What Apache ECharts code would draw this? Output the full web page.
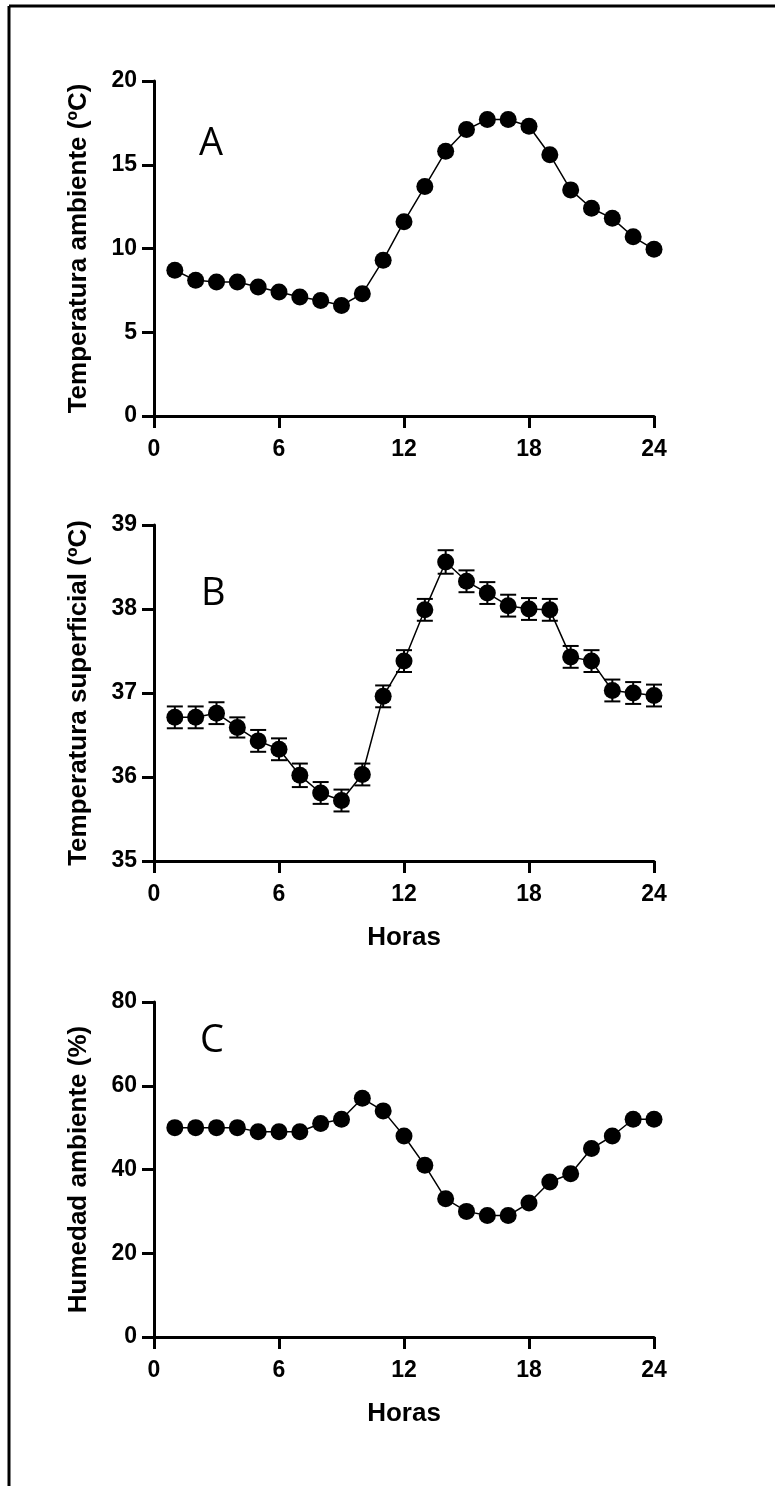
<!DOCTYPE html>
<html>
<head>
<meta charset="utf-8">
<script src="https://cdn.jsdelivr.net/npm/echarts@6/dist/echarts.min.js"></script>
<style>
  html, body { margin: 0; padding: 0; background: #fff; }
  #chart { width: 775px; height: 1486px; }
</style>
</head>
<body>
<div id="chart"></div>
<script>
// horas del día
var horas = [1, 2, 3, 4, 5, 6, 7, 8, 9, 10, 11, 12, 13, 14, 15, 16, 17, 18, 19, 20, 21, 22, 23, 24];
// A: temperatura ambiente (ºC)
var tempAmbiente = [8.7, 8.1, 8.0, 8.0, 7.7, 7.4, 7.1, 6.9, 6.6, 7.3, 9.3, 11.6, 13.7, 15.8, 17.1, 17.7, 17.7, 17.3, 15.6, 13.5, 12.4, 11.8, 10.7, 9.95];
// B: temperatura superficial (ºC) y error
var tempSuperficial = [36.71, 36.71, 36.76, 36.59, 36.43, 36.33, 36.02, 35.81, 35.72, 36.03, 36.96, 37.38, 37.99, 38.56, 38.33, 38.19, 38.04, 38.0, 37.99, 37.43, 37.38, 37.03, 37.0, 36.97];
var errSuperficial = [0.13, 0.13, 0.13, 0.12, 0.13, 0.13, 0.14, 0.13, 0.13, 0.13, 0.13, 0.13, 0.13, 0.14, 0.13, 0.13, 0.13, 0.13, 0.13, 0.13, 0.13, 0.13, 0.13, 0.13];
// C: humedad ambiente (%)
var humedad = [50, 50, 50, 50, 49, 49, 49, 51, 52, 57, 54, 48, 41, 33, 30, 29, 29, 32, 37, 39, 45, 48, 52, 52];

var xTicks = { min: 0, max: 24, interval: 6 };
var yA = { min: 0, max: 20, interval: 5, name: 'Temperatura ambiente (ºC)' };
var yB = { min: 35, max: 39, interval: 1, name: 'Temperatura superficial (ºC)' };
var yC = { min: 0, max: 80, interval: 20, name: 'Humedad ambiente (%)' };

var fontFam = '"Liberation Sans", Arial, sans-serif';

function pares(vals) {
  return horas.map(function (h, i) { return [h, vals[i]]; });
}

function ejeX(idx, conNombre) {
  return {
    gridIndex: idx,
    type: 'value',
    min: xTicks.min,
    max: xTicks.max,
    interval: xTicks.interval,
    name: conNombre ? 'Horas' : '',
    nameLocation: 'middle',
    nameGap: 64,
    nameTextStyle: { color: '#000', fontWeight: 'bold', fontSize: 26, fontFamily: fontFam },
    axisLine: { lineStyle: { color: '#000', width: 3 } },
    axisTick: { length: 12, lineStyle: { color: '#000', width: 3 } },
    axisLabel: { color: '#000', fontWeight: 'bold', fontSize: 23, fontFamily: fontFam, margin: 22 },
    splitLine: { show: false }
  };
}

function ejeY(idx, cfg) {
  return {
    gridIndex: idx,
    type: 'value',
    min: cfg.min,
    max: cfg.max,
    interval: cfg.interval,
    name: cfg.name,
    nameLocation: 'middle',
    nameRotate: 90,
    nameGap: 62,
    nameTextStyle: { color: '#000', fontWeight: 'bold', fontSize: 26, fontFamily: fontFam },
    axisLine: { show: true, lineStyle: { color: '#000', width: 3 } },
    axisTick: { show: true, length: 12, lineStyle: { color: '#000', width: 3 } },
    axisLabel: { color: '#000', fontWeight: 'bold', fontSize: 23, fontFamily: fontFam, margin: 17 },
    splitLine: { show: false }
  };
}

function serieLinea(idx, vals) {
  return {
    type: 'line',
    xAxisIndex: idx,
    yAxisIndex: idx,
    data: pares(vals),
    symbol: 'circle',
    symbolSize: 17,
    itemStyle: { color: '#000' },
    lineStyle: { color: '#000', width: 1.5 },
    z: 3
  };
}

var chart = echarts.init(document.getElementById('chart'), null, { renderer: 'canvas' });

chart.setOption({
  animation: false,
  backgroundColor: '#fff',
  grid: [
    { left: 154, top: 81, width: 500, height: 335 },
    { left: 154, top: 525, width: 500, height: 336 },
    { left: 154, top: 1002, width: 500, height: 335 }
  ],
  xAxis: [ejeX(0, false), ejeX(1, true), ejeX(2, true)],
  yAxis: [ejeY(0, yA), ejeY(1, yB), ejeY(2, yC)],
  series: [
    serieLinea(0, tempAmbiente),
    serieLinea(1, tempSuperficial),
    {
      // barras de error
      type: 'custom',
      xAxisIndex: 1,
      yAxisIndex: 1,
      data: horas.map(function (h, i) {
        return [h, tempSuperficial[i] - errSuperficial[i], tempSuperficial[i] + errSuperficial[i]];
      }),
      renderItem: function (params, api) {
        var lo = api.coord([api.value(0), api.value(1)]);
        var hi = api.coord([api.value(0), api.value(2)]);
        var w = 8;
        var st = { stroke: '#000', lineWidth: 2 };
        return {
          type: 'group',
          children: [
            { type: 'line', shape: { x1: hi[0], y1: hi[1], x2: lo[0], y2: lo[1] }, style: st },
            { type: 'line', shape: { x1: hi[0] - w, y1: hi[1], x2: hi[0] + w, y2: hi[1] }, style: st },
            { type: 'line', shape: { x1: lo[0] - w, y1: lo[1], x2: lo[0] + w, y2: lo[1] }, style: st }
          ]
        };
      },
      z: 2
    },
    serieLinea(2, humedad)
  ],
  graphic: [
    { type: 'line', shape: { x1: 9, y1: 6, x2: 775, y2: 6 }, style: { stroke: '#000', lineWidth: 3 } },
    { type: 'line', shape: { x1: 9, y1: 6, x2: 9, y2: 1486 }, style: { stroke: '#000', lineWidth: 3 } },
    { type: 'text', left: 199, top: 125, style: { text: 'A', fontSize: 38, fontFamily: '"Open Sans", sans-serif', fill: '#000' } },
    { type: 'text', left: 201, top: 575, style: { text: 'B', fontSize: 38, fontFamily: '"Open Sans", sans-serif', fill: '#000' } },
    { type: 'text', left: 200, top: 1022, style: { text: 'C', fontSize: 38, fontFamily: '"Open Sans", sans-serif', fill: '#000' } }
  ]
});
</script>
</body>
</html>
